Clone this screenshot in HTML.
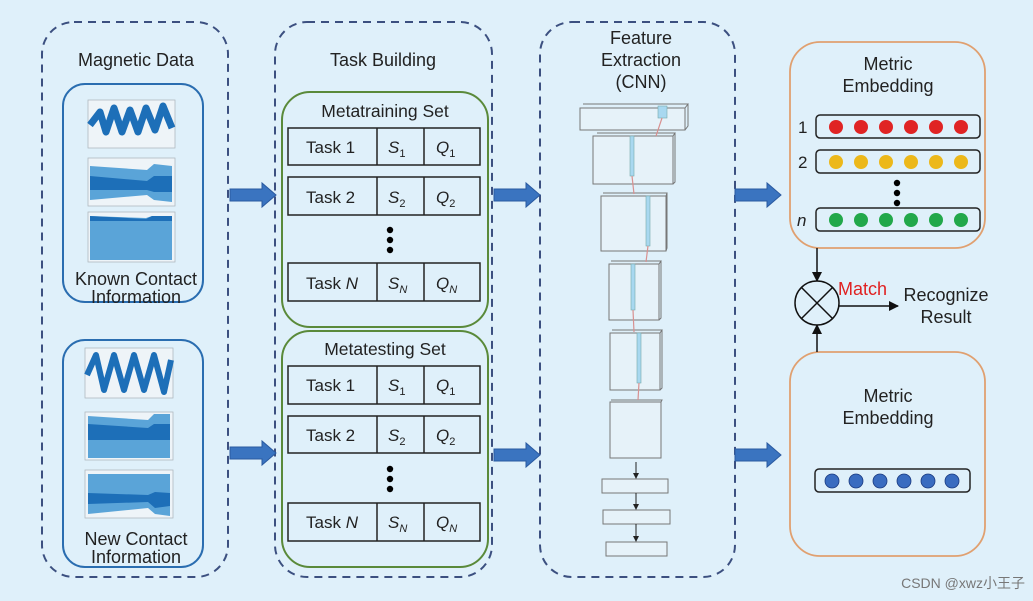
<!DOCTYPE html>
<html><head><meta charset="utf-8"><style>
html,body{margin:0;padding:0;background:#dff0fa;}
svg{display:block;font-family:"Liberation Sans",sans-serif;}
</style></head><body>
<svg width="1033" height="601" viewBox="0 0 1033 601" xmlns="http://www.w3.org/2000/svg">
<defs>
<marker id="ah" markerWidth="10" markerHeight="10" refX="9" refY="5" orient="auto" markerUnits="userSpaceOnUse"><path d="M0,0 L10,5 L0,10 z" fill="#111"/></marker>
<marker id="sa" markerWidth="6" markerHeight="6" refX="5" refY="3" orient="auto" markerUnits="userSpaceOnUse"><path d="M0,0 L6,3 L0,6 z" fill="#222"/></marker>
<g id="barr"><path d="M0,-6 L32,-6 L32,-12 L46,0 L32,12 L32,6 L0,6 z" fill="#3a74c0" stroke="#2a5aa0" stroke-width="1"/></g>
<g id="dots"><circle cx="0" cy="0" r="3.2" fill="#000"/><circle cx="0" cy="10" r="3.2" fill="#000"/><circle cx="0" cy="20" r="3.2" fill="#000"/></g>
</defs>
<rect width="1033" height="601" fill="#dff0fa"/>
<g fill="none" stroke="#3c5080" stroke-width="2" stroke-dasharray="8,6">
<rect x="42" y="22" width="186" height="555" rx="32"/>
<rect x="275" y="22" width="217" height="555" rx="32"/>
<rect x="540" y="22" width="195" height="555" rx="32"/>
</g>
<g font-size="18" text-anchor="middle" fill="#222">
<text x="136" y="66">Magnetic Data</text>
<text x="383" y="66">Task Building</text>
<text x="641" y="44">Feature</text>
<text x="641" y="66">Extraction</text>
<text x="641" y="88">(CNN)</text>
</g>

<g fill="none" stroke="#2a6db0" stroke-width="2">
<rect x="63" y="84" width="140" height="218" rx="22"/>
<rect x="63" y="340" width="140" height="227" rx="22"/>
</g>
<g stroke="#b0b8c0" stroke-width="0.8" fill="#eef4f8">
<rect x="88" y="100" width="87" height="48"/><rect x="88" y="158" width="87" height="48"/><rect x="88" y="212" width="87" height="50"/>
<rect x="85" y="348" width="88" height="50"/><rect x="85" y="412" width="88" height="48"/><rect x="85" y="470" width="88" height="48"/>
</g>
<path d="M90,125 L100,112 L106,132 L114,108 L122,132 L130,110 L138,132 L146,108 L155,130 L163,106 L172,128" fill="none" stroke="#1d6fb8" stroke-width="7" stroke-linejoin="round"/>
<path d="M90,166 L147,170 L154,164 L172,166 L172,202 L154,200 L147,195 L90,200 z" fill="#5aa4d8"/>
<path d="M90,176 L147,181 L154,176 L172,176 L172,192 L154,192 L147,190 L90,190 z" fill="#1d6fb8"/>
<path d="M90,216 L146,218 L152,216 L172,216 L172,260 L90,260 z" fill="#5aa4d8"/>
<path d="M90,216 L146,219 L152,216 L172,216 L172,221 L90,221 z" fill="#1d6fb8"/>
<path d="M87,375 L96,355 L104,390 L114,355 L124,390 L134,355 L144,390 L154,355 L164,392 L171,360" fill="none" stroke="#1d6fb8" stroke-width="6" stroke-linejoin="round"/>
<path d="M88,416 L148,420 L154,414 L170,414 L170,458 L88,458 z" fill="#5aa4d8"/>
<path d="M88,424 L148,428 L154,424 L170,424 L170,440 L88,440 z" fill="#1d6fb8"/>
<path d="M88,474 L170,474 L170,516 L155,514 L148,508 L88,514 z" fill="#5aa4d8"/>
<path d="M88,493 L148,495 L155,492 L170,493 L170,506 L155,508 L148,502 L88,504 z" fill="#1d6fb8"/>
<g font-size="18" text-anchor="middle" fill="#222">
<text x="136" y="285">Known Contact</text><text x="136" y="303">Information</text>
<text x="136" y="545">New Contact</text><text x="136" y="563">Information</text>
</g>

<g fill="none" stroke="#5a8a3a" stroke-width="2">
<rect x="282" y="92" width="206" height="235" rx="28"/>
<rect x="282" y="331" width="206" height="236" rx="28"/>
</g>
<text x="385" y="117" font-size="17.5" text-anchor="middle" fill="#222">Metatraining Set</text>
<text x="385" y="355" font-size="17.5" text-anchor="middle" fill="#222">Metatesting Set</text>
<g stroke="#222" stroke-width="1.5" fill="none">
<rect x="288" y="128" width="192" height="37"/><line x1="377" y1="128" x2="377" y2="165"/><line x1="424" y1="128" x2="424" y2="165"/>
<rect x="288" y="177" width="192" height="38"/><line x1="377" y1="177" x2="377" y2="215"/><line x1="424" y1="177" x2="424" y2="215"/>
<rect x="288" y="263" width="192" height="38"/><line x1="377" y1="263" x2="377" y2="301"/><line x1="424" y1="263" x2="424" y2="301"/>
<rect x="288" y="366" width="192" height="38"/><line x1="377" y1="366" x2="377" y2="404"/><line x1="424" y1="366" x2="424" y2="404"/>
<rect x="288" y="416" width="192" height="37"/><line x1="377" y1="416" x2="377" y2="453"/><line x1="424" y1="416" x2="424" y2="453"/>
<rect x="288" y="503" width="192" height="38"/><line x1="377" y1="503" x2="377" y2="541"/><line x1="424" y1="503" x2="424" y2="541"/>
</g>
<g font-size="17" fill="#222">
<text x="306" y="153">Task 1</text><text x="388" y="153" font-style="italic">S<tspan font-size="11" dy="4" font-style="normal">1</tspan></text><text x="436" y="153" font-style="italic">Q<tspan font-size="11" dy="4" font-style="normal">1</tspan></text>
<text x="306" y="203">Task 2</text><text x="388" y="203" font-style="italic">S<tspan font-size="11" dy="4" font-style="normal">2</tspan></text><text x="436" y="203" font-style="italic">Q<tspan font-size="11" dy="4" font-style="normal">2</tspan></text>
<text x="306" y="289">Task <tspan font-style="italic">N</tspan></text><text x="388" y="289" font-style="italic">S<tspan font-size="11" dy="4">N</tspan></text><text x="436" y="289" font-style="italic">Q<tspan font-size="11" dy="4">N</tspan></text>
<text x="306" y="391">Task 1</text><text x="388" y="391" font-style="italic">S<tspan font-size="11" dy="4" font-style="normal">1</tspan></text><text x="436" y="391" font-style="italic">Q<tspan font-size="11" dy="4" font-style="normal">1</tspan></text>
<text x="306" y="441">Task 2</text><text x="388" y="441" font-style="italic">S<tspan font-size="11" dy="4" font-style="normal">2</tspan></text><text x="436" y="441" font-style="italic">Q<tspan font-size="11" dy="4" font-style="normal">2</tspan></text>
<text x="306" y="528">Task <tspan font-style="italic">N</tspan></text><text x="388" y="528" font-style="italic">S<tspan font-size="11" dy="4">N</tspan></text><text x="436" y="528" font-style="italic">Q<tspan font-size="11" dy="4">N</tspan></text>
</g>
<use href="#dots" x="390" y="230"/><use href="#dots" x="390" y="469"/>

<use href="#barr" x="230" y="195"/><use href="#barr" x="230" y="453"/>
<use href="#barr" x="494" y="195"/><use href="#barr" x="494" y="455"/>
<use href="#barr" x="735" y="195"/><use href="#barr" x="735" y="455"/>

<g fill="#e6f2f9" stroke="#777" stroke-width="1">
<rect x="580" y="108" width="105" height="22"/><path d="M583,104 L688,104 L685,108 M688,104 L688,126 L685,130" fill="none"/>
<rect x="593" y="136" width="80" height="48"/><path d="M597,133 L675,133 L673,136 M675,133 L675,182 L673,184" fill="none"/>
<rect x="601" y="196" width="65" height="55"/><path d="M603,193 L667,193 L666,196 M667,193 L667,248 L666,251" fill="none"/>
<rect x="609" y="264" width="50" height="56"/><path d="M611,261 L661,261 L659,264 M661,261 L661,318 L659,320" fill="none"/>
<rect x="610" y="333" width="50" height="57"/><path d="M612,330 L662,330 L660,333 M662,330 L662,388 L660,390" fill="none"/>
<rect x="610" y="402" width="51" height="56"/><path d="M611,400 L662,400 L661,402" fill="none"/>
<rect x="602" y="479" width="66" height="14"/><rect x="603" y="510" width="67" height="14"/><rect x="606" y="542" width="61" height="14"/>
</g>
<g fill="#a8d8f0" stroke="#7aa" stroke-width="0.6">
<rect x="658" y="106" width="9" height="12"/><rect x="630" y="136" width="4" height="40"/><rect x="646" y="196" width="4" height="50"/><rect x="631" y="264" width="4" height="46"/><rect x="637" y="333" width="4" height="50"/>
</g>
<g stroke="#d89090" stroke-width="1.2">
<line x1="662" y1="118" x2="656" y2="136"/><line x1="632" y1="176" x2="634" y2="194"/><line x1="648" y1="246" x2="646" y2="262"/><line x1="633" y1="310" x2="634" y2="332"/><line x1="639" y1="383" x2="638" y2="400"/>
</g>
<g stroke="#222" stroke-width="1" marker-end="url(#sa)">
<line x1="636" y1="462" x2="636" y2="478"/><line x1="636" y1="493" x2="636" y2="509"/><line x1="636" y1="524" x2="636" y2="541"/>
</g>

<g fill="none" stroke="#e0a070" stroke-width="1.8">
<rect x="790" y="42" width="195" height="206" rx="30"/>
<rect x="790" y="352" width="195" height="204" rx="30"/>
</g>
<g font-size="18" text-anchor="middle" fill="#222">
<text x="888" y="70">Metric</text><text x="888" y="92">Embedding</text>
<text x="888" y="402">Metric</text><text x="888" y="424">Embedding</text>
</g>
<g fill="none" stroke="#222" stroke-width="1.5">
<rect x="816" y="115" width="164" height="23" rx="4"/>
<rect x="816" y="150" width="164" height="23" rx="4"/>
<rect x="816" y="208" width="164" height="23" rx="4"/>
<rect x="815" y="469" width="155" height="23" rx="4"/>
</g>
<g font-size="17" fill="#222"><text x="798" y="133">1</text><text x="798" y="168">2</text><text x="797" y="226" font-style="italic">n</text></g>
<g fill="#e02424"><circle cx="836" cy="127" r="7"/><circle cx="861" cy="127" r="7"/><circle cx="886" cy="127" r="7"/><circle cx="911" cy="127" r="7"/><circle cx="936" cy="127" r="7"/><circle cx="961" cy="127" r="7"/></g>
<g fill="#ecb81a"><circle cx="836" cy="162" r="7"/><circle cx="861" cy="162" r="7"/><circle cx="886" cy="162" r="7"/><circle cx="911" cy="162" r="7"/><circle cx="936" cy="162" r="7"/><circle cx="961" cy="162" r="7"/></g>
<g fill="#22a84a"><circle cx="836" cy="220" r="7"/><circle cx="861" cy="220" r="7"/><circle cx="886" cy="220" r="7"/><circle cx="911" cy="220" r="7"/><circle cx="936" cy="220" r="7"/><circle cx="961" cy="220" r="7"/></g>
<g fill="#3a6cc0" stroke="#1a3a80" stroke-width="0.8"><circle cx="832" cy="481" r="7"/><circle cx="856" cy="481" r="7"/><circle cx="880" cy="481" r="7"/><circle cx="904" cy="481" r="7"/><circle cx="928" cy="481" r="7"/><circle cx="952" cy="481" r="7"/></g>
<use href="#dots" x="897" y="183"/>

<g stroke="#111" stroke-width="1.5" fill="none">
<line x1="817" y1="248" x2="817" y2="281" marker-end="url(#ah)"/>
<line x1="817" y1="352" x2="817" y2="325" marker-end="url(#ah)"/>
<circle cx="817" cy="303" r="22" fill="#dff0fa"/>
<line x1="801" y1="287" x2="833" y2="319"/><line x1="833" y1="287" x2="801" y2="319"/>
<line x1="839" y1="306" x2="898" y2="306" marker-end="url(#ah)"/>
</g>
<text x="838" y="295" font-size="18" fill="#e02020">Match</text>
<g font-size="18" text-anchor="middle" fill="#222"><text x="946" y="301">Recognize</text><text x="946" y="323">Result</text></g>
<text x="1025" y="588" font-size="14" text-anchor="end" fill="#777" font-family="Liberation Sans, Noto Sans CJK SC, sans-serif">CSDN @xwz小王子</text>
</svg>
</body></html>
